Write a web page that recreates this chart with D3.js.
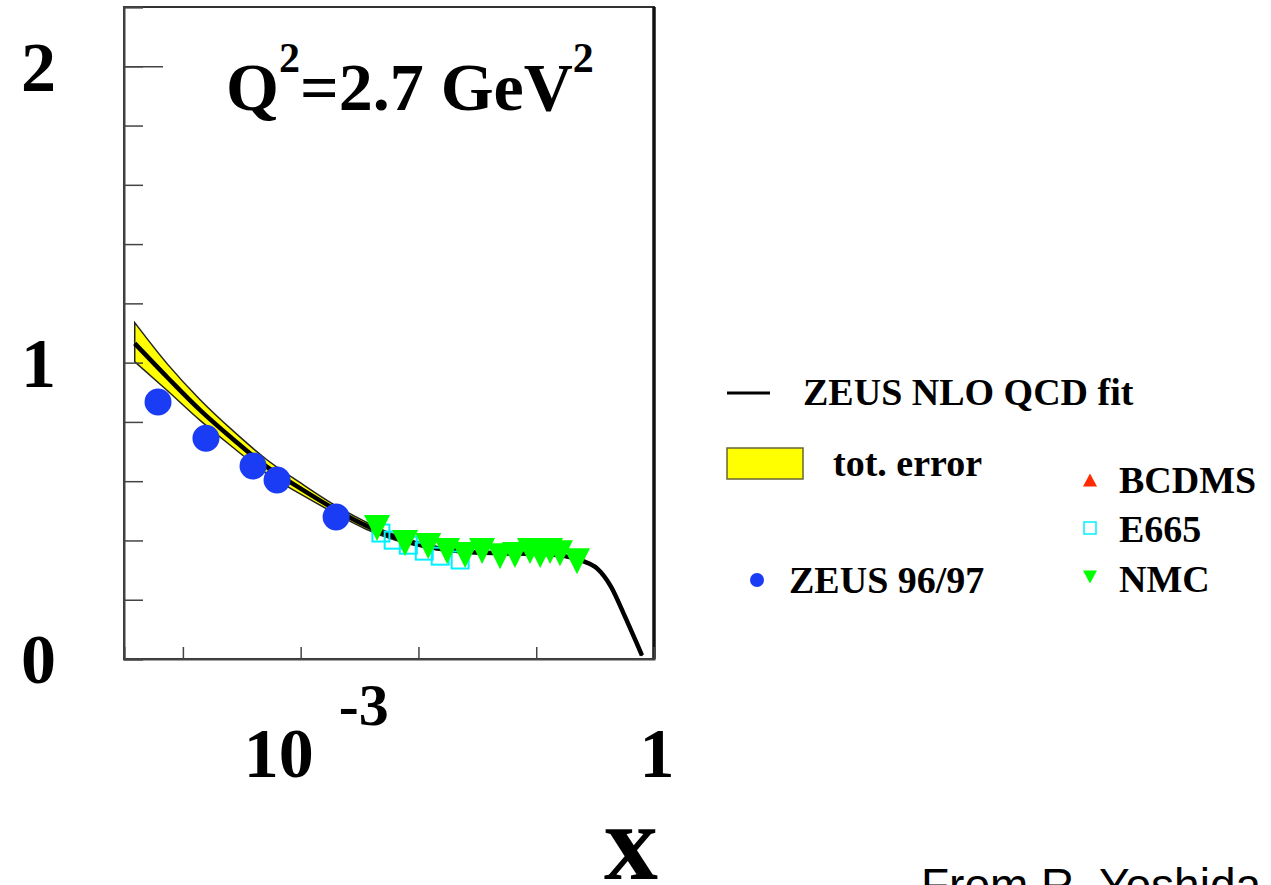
<!DOCTYPE html>
<html>
<head>
<meta charset="utf-8">
<script src="https://cdn.jsdelivr.net/npm/d3@7"></script>
<style>
  body { margin: 0; background: #fff; }
  svg { display: block; }
  .serif { font-family: "Liberation Serif", "DejaVu Serif", serif; font-weight: bold; }
</style>
</head>
<body>
<div id="chart"></div>
<script>
// ZEUS NLO QCD fit (central value + total error band)
const fitX  = [3.9e-5, 7.4e-5, 1.4e-4, 2.7e-4, 5.1e-4, 1e-3, 1.9e-3, 3.6e-3, 6.3e-3, 0.0126, 0.025, 0.05, 0.1, 0.17, 0.25, 0.33, 0.43, 0.55, 0.71, 0.79];
const fitY  = [1.065, 0.95, 0.84, 0.74, 0.65, 0.575, 0.508, 0.45, 0.41, 0.378, 0.362, 0.357, 0.355, 0.348, 0.33, 0.305, 0.245, 0.155, 0.055, 0.012];
const fitHi = [1.135, 0.995, 0.875, 0.768, 0.674, 0.594, 0.522, 0.462, 0.419, 0.384, 0.366, 0.36, 0.358, 0.35, 0.332, 0.307, 0.247, 0.157, 0.057, 0.014];
const fitLo = [1.003, 0.905, 0.805, 0.712, 0.626, 0.556, 0.494, 0.438, 0.401, 0.372, 0.358, 0.354, 0.352, 0.346, 0.328, 0.303, 0.243, 0.153, 0.053, 0.010];

// data sets
const zeusX = [6.15e-5, 1.57e-4, 3.94e-4, 6.3e-4, 2.0e-3];
const zeusY = [0.867, 0.745, 0.651, 0.604, 0.479];

const e665X = [4.8e-3, 6.1e-3, 8.2e-3, 0.0112, 0.0153, 0.0226];
const e665Y = [0.425, 0.401, 0.384, 0.364, 0.347, 0.334];

const nmcX = [4.45e-3, 7.7e-3, 0.0121, 0.0175, 0.0249, 0.0347, 0.0493, 0.066, 0.0886, 0.108, 0.131, 0.159, 0.222];
const nmcY = [0.442, 0.391, 0.381, 0.364, 0.351, 0.364, 0.347, 0.351, 0.364, 0.351, 0.364, 0.357, 0.33];

const yTicks = [0, 0.2, 0.4, 0.6, 0.8, 1, 1.2, 1.4, 1.6, 1.8, 2, 2.2];
const yMajor = [0, 1, 2];
const xTicks = [1e-4, 1e-3, 1e-2, 1e-1];

const W = 1271, H = 885;
const plot = {left: 124, right: 654, top: 7, bottom: 659};

const svg = d3.select("#chart").append("svg")
    .attr("width", W)
    .attr("height", H);

svg.append("rect").attr("width", W).attr("height", H).attr("fill", "#fff");

const x = d3.scaleLog().domain([Math.pow(10, -4.5), 1]).range([plot.left, plot.right]);
const y = d3.scaleLinear().domain([0, 2.2]).range([plot.bottom, plot.top]);

// error band
const band = fitX.map((v, i) => ({x: v, lo: fitLo[i], hi: fitHi[i]}));
svg.append("path")
    .datum(band)
    .attr("d", d3.area()
        .x(d => x(d.x))
        .y0(d => y(d.lo))
        .y1(d => y(d.hi))
        .curve(d3.curveMonotoneX))
    .attr("fill", "#ffff00")
    .attr("stroke", "#222")
    .attr("stroke-width", 1.5);

// central fit line
svg.append("path")
    .datum(fitX.map((v, i) => [v, fitY[i]]))
    .attr("d", d3.line()
        .x(d => x(d[0]))
        .y(d => y(d[1]))
        .curve(d3.curveMonotoneX))
    .attr("fill", "none")
    .attr("stroke", "#000")
    .attr("stroke-width", 4.5);

// ZEUS 96/97 points
svg.append("g")
    .selectAll("circle")
    .data(zeusX.map((v, i) => [v, zeusY[i]]))
    .join("circle")
    .attr("cx", d => x(d[0]))
    .attr("cy", d => y(d[1]))
    .attr("r", 13.5)
    .attr("fill", "#1a3cf5");

// E665 open squares
const sq = 17;
svg.append("g")
    .selectAll("rect")
    .data(e665X.map((v, i) => [v, e665Y[i]]))
    .join("rect")
    .attr("x", d => x(d[0]) - sq / 2)
    .attr("y", d => y(d[1]) - sq / 2)
    .attr("width", sq)
    .attr("height", sq)
    .attr("fill", "none")
    .attr("stroke", "#00f0ff")
    .attr("stroke-width", 2);

// NMC down triangles
function downTri(cx, cy, w, h) {
  return `M${cx - w / 2},${cy - h / 2}L${cx + w / 2},${cy - h / 2}L${cx},${cy + h / 2}Z`;
}
function upTri(cx, cy, w, h) {
  return `M${cx - w / 2},${cy + h / 2}L${cx + w / 2},${cy + h / 2}L${cx},${cy - h / 2}Z`;
}
svg.append("g")
    .selectAll("path")
    .data(nmcX.map((v, i) => [v, nmcY[i]]))
    .join("path")
    .attr("d", d => downTri(x(d[0]), y(d[1]), 26, 26))
    .attr("fill", "#00ff00");

// frame
svg.append("rect")
    .attr("x", plot.left)
    .attr("y", plot.top)
    .attr("width", plot.right - plot.left)
    .attr("height", plot.bottom - plot.top)
    .attr("fill", "none")
    .attr("stroke", "#333")
    .attr("stroke-width", 2);
svg.append("line")
    .attr("x1", plot.right).attr("x2", plot.right)
    .attr("y1", plot.top).attr("y2", plot.bottom)
    .attr("stroke", "#111").attr("stroke-width", 3.5);

// y axis: minor ticks inside, labels far left
const yAxis = svg.append("g")
    .attr("transform", `translate(${plot.left},0)`)
    .call(d3.axisLeft(y).tickValues(yTicks).tickSize(-19).tickPadding(68)
        .tickFormat(d => yMajor.includes(d) ? d3.format("d")(d) : ""));
yAxis.select(".domain").attr("stroke", "#444").attr("stroke-width", 2);
yAxis.selectAll(".tick line").attr("stroke", "#444").attr("stroke-width", 1.5);
yAxis.selectAll(".tick text")
    .attr("class", "serif")
    .attr("font-size", 70)
    .attr("fill", "#000")
    .attr("dy", "0.34em");

const yAxisMajor = svg.append("g")
    .attr("transform", `translate(${plot.left},0)`)
    .call(d3.axisLeft(y).tickValues([2]).tickSize(-39).tickFormat(""));
yAxisMajor.select(".domain").remove();
yAxisMajor.selectAll(".tick line").attr("stroke", "#444").attr("stroke-width", 1.5);

// x axis: decade ticks inside
const xAxis = svg.append("g")
    .attr("transform", `translate(0,${plot.bottom})`)
    .call(d3.axisBottom(x).tickValues(xTicks).tickSize(-12).tickFormat(""));
xAxis.select(".domain").attr("stroke", "#444").attr("stroke-width", 2);
xAxis.selectAll(".tick line").attr("stroke", "#444").attr("stroke-width", 1.5);

// x tick labels
svg.append("text")
    .attr("class", "serif")
    .attr("x", x(1e-3) - 57)
    .attr("y", 777)
    .attr("font-size", 70)
    .text("10");
svg.append("text")
    .attr("class", "serif")
    .attr("x", x(1e-3) + 38)
    .attr("y", 725)
    .attr("font-size", 60)
    .text("-3");
svg.append("text")
    .attr("class", "serif")
    .attr("x", x(1) + 3)
    .attr("y", 777)
    .attr("text-anchor", "middle")
    .attr("font-size", 70)
    .text("1");

// axis title
svg.append("text")
    .attr("class", "serif")
    .attr("x", 631)
    .attr("y", 879)
    .attr("text-anchor", "middle")
    .attr("font-size", 108)
    .text("x");

// Q2 label
const q = svg.append("text")
    .attr("class", "serif")
    .attr("x", 226)
    .attr("y", 110)
    .attr("font-size", 68);
q.append("tspan").text("Q");
q.append("tspan").attr("font-size", 42).attr("dy", -38).text("2");
q.append("tspan").attr("dy", 38).text("=2.7 GeV");
q.append("tspan").attr("font-size", 42).attr("dy", -38).text("2");

// legend
const leg = svg.append("g").attr("class", "serif").attr("font-size", 38);
leg.append("line")
    .attr("x1", 727).attr("x2", 770).attr("y1", 393).attr("y2", 393)
    .attr("stroke", "#000").attr("stroke-width", 3);
leg.append("text").attr("x", 803).attr("y", 405).text("ZEUS NLO QCD fit");

leg.append("rect")
    .attr("x", 727).attr("y", 448).attr("width", 76).attr("height", 31)
    .attr("fill", "#ffff00").attr("stroke", "#666633").attr("stroke-width", 1.5);
leg.append("text").attr("x", 833).attr("y", 476).text("tot. error");

leg.append("circle").attr("cx", 757).attr("cy", 580).attr("r", 7).attr("fill", "#1a3cf5");
leg.append("text").attr("x", 789).attr("y", 593).text("ZEUS 96/97");

leg.append("path").attr("d", upTri(1090, 480, 14, 13)).attr("fill", "#ff2a00");
leg.append("text").attr("x", 1119).attr("y", 493).text("BCDMS");

leg.append("rect")
    .attr("x", 1084).attr("y", 522).attr("width", 12).attr("height", 12)
    .attr("fill", "none").attr("stroke", "#00f0ff").attr("stroke-width", 1.5);
leg.append("text").attr("x", 1119).attr("y", 542).text("E665");

leg.append("path").attr("d", downTri(1090, 577, 14, 13)).attr("fill", "#00ff00");
leg.append("text").attr("x", 1119).attr("y", 592).text("NMC");

// credit
svg.append("text")
    .attr("x", 921)
    .attr("y", 901)
    .attr("font-family", "'Liberation Sans', Arial, sans-serif")
    .attr("font-size", 46)
    .text("From R. Yoshida");
</script>
</body>
</html>
